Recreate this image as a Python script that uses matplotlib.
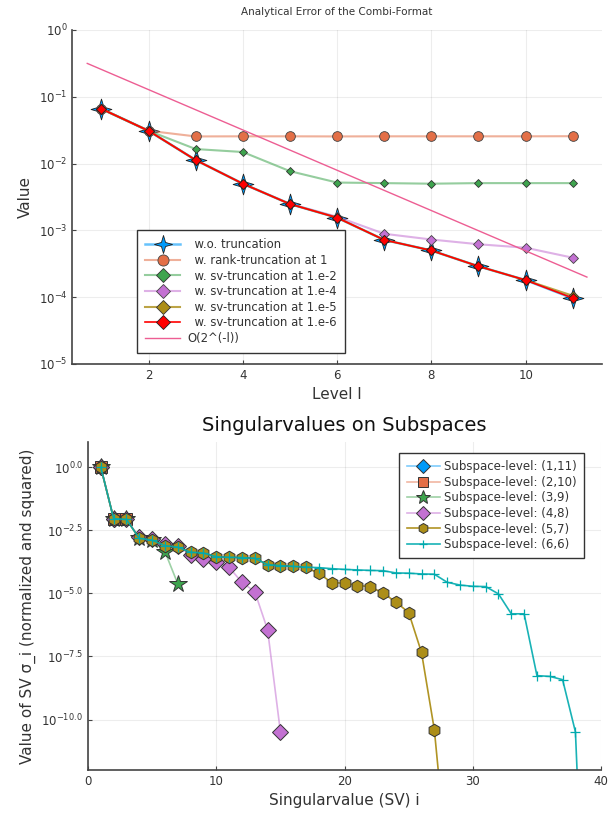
import numpy as np
import matplotlib
matplotlib.use("Agg")
import matplotlib.pyplot as plt
from matplotlib.path import Path
from matplotlib.ticker import FixedLocator, FixedFormatter, NullLocator

# --- top panel: analytical error per level ---
levels = [1, 2, 3, 4, 5, 6, 7, 8, 9, 10, 11]
err_full = [0.066, 0.031, 0.0113, 0.0050, 0.00248, 0.00155, 0.00072, 0.00050, 0.00029, 0.00018, 0.000096]
err_rank1 = [0.066, 0.031, 0.0255, 0.0256, 0.0256, 0.0255, 0.0256, 0.0256, 0.0256, 0.0256, 0.0257]
err_sv2 = [0.066, 0.031, 0.0165, 0.0149, 0.0077, 0.0052, 0.0051, 0.0050, 0.0051, 0.0051, 0.0051]
err_sv4 = [0.066, 0.031, 0.0113, 0.0050, 0.00250, 0.00160, 0.00089, 0.00073, 0.00062, 0.00055, 0.00039]
err_sv5 = [0.066, 0.031, 0.0113, 0.0050, 0.00248, 0.00155, 0.00072, 0.00050, 0.00029, 0.00018, 0.000105]
err_sv6 = [0.066, 0.031, 0.0113, 0.0050, 0.00248, 0.00155, 0.00072, 0.00050, 0.00029, 0.00018, 0.000097]
ref_l = [0.7, 11.3]
ref_err = [0.316, 0.0002]

# --- bottom panel: log10 of normalized squared singular values ---
sv_1_11 = [0.0, -2.04]
sv_2_10 = [0.0, -2.04, -2.07]
sv_3_9 = [0.0, -2.04, -2.07, -2.82, -2.89, -3.35, -4.62]
sv_4_8 = [0.0, -2.04, -2.07, -2.78, -2.85, -3.05, -3.13, -3.47, -3.62, -3.74, -3.97,
          -4.56, -4.93, -6.44, -10.49]
sv_5_7 = [0.0, -2.04, -2.07, -2.82, -2.89, -3.11, -3.17, -3.37, -3.40, -3.55, -3.57,
          -3.58, -3.61, -3.86, -3.90, -3.93, -3.97, -4.21, -4.57, -4.60, -4.69, -4.73,
          -4.99, -5.34, -5.76, -7.34, -10.40, -15.7]
sv_6_6 = [0.0, -2.04, -2.07, -2.82, -2.89, -3.11, -3.17, -3.37, -3.40, -3.55, -3.57,
          -3.58, -3.61, -3.86, -3.90, -3.93, -3.96, -3.98, -4.02, -4.05, -4.07, -4.09,
          -4.10, -4.19, -4.20, -4.23, -4.24, -4.56, -4.67, -4.72, -4.73, -5.02, -5.81,
          -5.81, -8.26, -8.29, -8.42, -10.49, -22.5]

BLUE, ORANGE, GREEN, PURPLE = "#009AFA", "#E36F47", "#3EA44E", "#C371D2"
OLIVE, TEAL, PINK = "#AC8E18", "#00AAAE", "#ED5E93"
TXT = "#333333"

plt.rcParams["font.family"] = ["DejaVu Sans"]
star4 = Path.unit_regular_star(4, 0.32)


def faded(c, a):
    return matplotlib.colors.to_rgba(c, a)


def style_axes(ax):
    for s in ("top", "right"):
        ax.spines[s].set_visible(False)
    for s in ("left", "bottom"):
        ax.spines[s].set_color("#444444")
        ax.spines[s].set_linewidth(1.2)
    ax.tick_params(direction="in", length=3, width=0.8, color="#444444",
                   labelcolor=TXT, labelsize=8.5)
    ax.grid(True, color="#000000", alpha=0.07, linewidth=0.8)
    ax.set_axisbelow(True)


def style_legend(leg):
    leg.get_frame().set_linewidth(1.0)
    for t in leg.get_texts():
        t.set_color(TXT)


fig = plt.figure(figsize=(6.09, 8.15), dpi=100)

# top
ax1 = fig.add_axes([0.1185, 0.5534, 0.8700, 0.4098])
ax1.set_yscale("log")
ax1.plot(levels, err_full, color=faded(BLUE, 0.6), lw=1.8, marker=star4, ms=15,
         mfc=BLUE, mec="#222222", mew=0.6, label="  w.o. truncation")
ax1.plot(levels, err_rank1, color=faded(ORANGE, 0.55), lw=1.5, marker="o", ms=7,
         mfc=ORANGE, mec="#444444", mew=0.6, label="  w. rank-truncation at 1")
ax1.plot(levels, err_sv2, color=faded(GREEN, 0.55), lw=1.5, marker="D", ms=4.5,
         mfc=GREEN, mec="#333333", mew=0.6, label="  w. sv-truncation at 1.e-2")
ax1.plot(levels, err_sv4, color=faded(PURPLE, 0.55), lw=1.5, marker="D", ms=5,
         mfc=PURPLE, mec="#444444", mew=0.6, label="  w. sv-truncation at 1.e-4")
ax1.plot(levels, err_sv5, color=faded(OLIVE, 0.8), lw=1.5, marker="D", ms=5.5,
         mfc=OLIVE, mec="#333333", mew=0.6, label="  w. sv-truncation at 1.e-5")
ax1.plot(levels, err_sv6, color="red", lw=1.2, marker="D", ms=5.5,
         mfc="red", mec="#222222", mew=0.6, label="  w. sv-truncation at 1.e-6")
ax1.plot(ref_l, ref_err, color=PINK, lw=1.0, label="O(2^(-l))")
ax1.set_xlim(0.38, 11.62)
ax1.set_ylim(1e-5, 1)
ax1.set_xticks([2, 4, 6, 8, 10])
ax1.yaxis.set_major_locator(FixedLocator([1e-5, 1e-4, 1e-3, 1e-2, 1e-1, 1]))
ax1.yaxis.set_minor_locator(NullLocator())
style_axes(ax1)
ax1.set_title("Analytical Error of the Combi-Format", fontsize=7.5, color=TXT, pad=11)
ax1.set_xlabel("Level l", fontsize=11, color=TXT, labelpad=4)
ax1.set_ylabel("Value", fontsize=11, color=TXT)
leg1 = ax1.legend(loc="lower left", bbox_to_anchor=(0.1226, 0.033), fontsize=8.4,
                  handlelength=3.0, labelspacing=0.22, borderpad=0.7,
                  fancybox=False, framealpha=1.0, edgecolor="#333333",
                  handletextpad=0.6, borderaxespad=0)
style_legend(leg1)
for h, size in zip(leg1.legend_handles, [13, 8, 7.5, 7.5, 7.5, 7.5, 0]):
    if size:
        h.set_markersize(size)

# bottom
ax2 = fig.add_axes([0.1445, 0.0552, 0.8425, 0.4025])
ax2.set_yscale("log")
series = [
    (sv_1_11, BLUE, "D", 8.5, 0.5, "Subspace-level: (1,11)"),
    (sv_2_10, ORANGE, "s", 9, 0.5, "Subspace-level: (2,10)"),
    (sv_3_9, GREEN, "*", 13, 0.5, "Subspace-level: (3,9)"),
    (sv_4_8, PURPLE, "D", 8.5, 0.55, "Subspace-level: (4,8)"),
    (sv_5_7, OLIVE, "h", 9, 0.95, "Subspace-level: (5,7)"),
]
for vals, col, mk, ms, a, lab in series:
    idx = np.arange(1, len(vals) + 1)
    ax2.plot(idx, 10.0 ** np.array(vals), color=faded(col, a), lw=1.2, marker=mk,
             ms=ms, mfc=col, mec="#333333", mew=0.7, label=lab)
idx = np.arange(1, len(sv_6_6) + 1)
ax2.plot(idx, 10.0 ** np.array(sv_6_6), color=faded(TEAL, 0.9), lw=1.2, marker="+",
         ms=6.5, mec=TEAL, mew=0.9, label="Subspace-level: (6,6)")
ax2.set_xlim(0, 40)
ax2.set_ylim(1e-12, 1e1)
ax2.set_xticks([0, 10, 20, 30, 40])
ytk = [1e-10, 10 ** -7.5, 1e-5, 10 ** -2.5, 1.0]
ax2.yaxis.set_major_locator(FixedLocator(ytk))
ax2.yaxis.set_major_formatter(FixedFormatter(
    [r"$10^{-10.0}$", r"$10^{-7.5}$", r"$10^{-5.0}$", r"$10^{-2.5}$", r"$10^{0.0}$"]))
ax2.yaxis.set_minor_locator(NullLocator())
style_axes(ax2)
ax2.set_title("Singularvalues on Subspaces", fontsize=14, color="#111111", pad=8)
ax2.set_xlabel("Singularvalue (SV) i", fontsize=11, color=TXT, labelpad=4)
ax2.set_ylabel("Value of SV σ_i (normalized and squared)", fontsize=11, color=TXT)
leg2 = ax2.legend(loc="upper right", bbox_to_anchor=(0.967, 0.966), fontsize=8.5,
                  handlelength=2.8, labelspacing=0.22, borderpad=0.6,
                  fancybox=False, framealpha=1.0, edgecolor="#333333",
                  handletextpad=0.4, borderaxespad=0, markerscale=0.8)
style_legend(leg2)

fig.savefig("out.png", dpi=100)
